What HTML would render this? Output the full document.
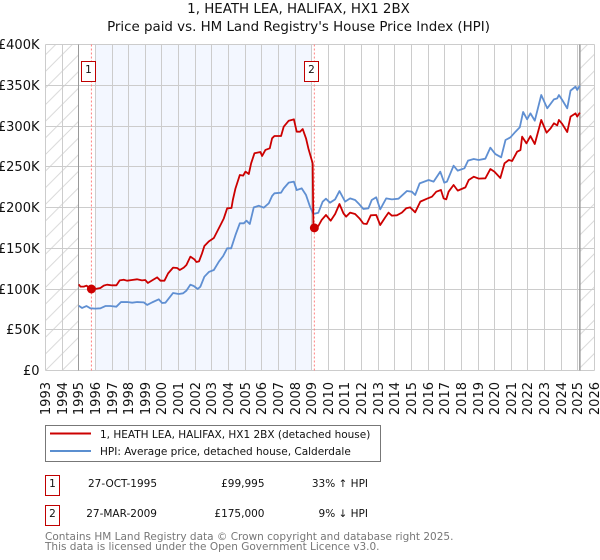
<!DOCTYPE html>
<html><head><meta charset="utf-8"><title>1, HEATH LEA, HALIFAX, HX1 2BX</title>
<style>
html,body{margin:0;padding:0;background:#fff}
svg{display:block;font-family:"DejaVu Sans","Liberation Sans",sans-serif}
</style></head>
<body>
<svg id="chart" xmlns="http://www.w3.org/2000/svg" width="600" height="560" viewBox="0 0 600 560">
<defs>
<pattern id="hatch" patternUnits="userSpaceOnUse" width="16.62" height="16.62" x="45.5" y="370.5">
<path d="M0 16.62L16.62 0M-2 2L2 -2M14.6 18.6L18.6 14.6" stroke="#d4d4d4" stroke-width="0.9" fill="none"/>
</pattern>
</defs>
<text x="298.5" y="13" text-anchor="middle" font-size="13.4" fill="#111">1, HEATH LEA, HALIFAX, HX1 2BX</text>
<text x="298.5" y="31" text-anchor="middle" font-size="13.4" fill="#111">Price paid vs. HM Land Registry's House Price Index (HPI)</text>
<g id="plot"></g>
<g>
<rect x="45.5" y="425.5" width="335" height="36" fill="#fff" stroke="#777" stroke-width="1"/>
<line x1="50" x2="91" y1="433.5" y2="433.5" stroke="#cc0000" stroke-width="2"/>
<text x="100" y="438" font-size="10.5" fill="#111">1, HEATH LEA, HALIFAX, HX1 2BX (detached house)</text>
<line x1="50" x2="91" y1="451" y2="451" stroke="#5b8fd0" stroke-width="2"/>
<text x="100" y="455" font-size="10.5" fill="#111">HPI: Average price, detached house, Calderdale</text>
</g>
<g font-size="10.5" fill="#111">
<rect x="45.5" y="475.5" width="14" height="20" fill="#fff" stroke="#c00000"/>
<text x="52.5" y="487" text-anchor="middle">1</text>
<text x="157" y="487" text-anchor="end">27-OCT-1995</text>
<text x="264.5" y="487" text-anchor="end">£99,995</text>
<text x="368" y="487" text-anchor="end">33% ↑ HPI</text>
<rect x="45.5" y="505.5" width="14" height="20" fill="#fff" stroke="#c00000"/>
<text x="52.5" y="517" text-anchor="middle">2</text>
<text x="157" y="517" text-anchor="end">27-MAR-2009</text>
<text x="264.5" y="517" text-anchor="end">£175,000</text>
<text x="368" y="517" text-anchor="end">9% ↓ HPI</text>
</g>
<text x="45" y="540" font-size="10.5" fill="#777">Contains HM Land Registry data © Crown copyright and database right 2025.</text>
<text x="45" y="550" font-size="10.5" fill="#777">This data is licensed under the Open Government Licence v3.0.</text>
</svg>
<script>
const yTickValues = [0, 50, 100, 150, 200, 250, 300, 350, 400];
const yTickLabels = ["£0", "£50K", "£100K", "£150K", "£200K", "£250K", "£300K", "£350K", "£400K"];
const xTickYears = [1993,1994,1995,1996,1997,1998,1999,2000,2001,2002,2003,2004,2005,2006,2007,2008,2009,2010,2011,2012,2013,2014,2015,2016,2017,2018,2019,2020,2021,2022,2023,2024,2025,2026];
const priceDates = [1995.00,1995.10,1995.30,1995.46,1995.60,1995.78,1996.10,1996.30,1996.50,1996.70,1997.00,1997.26,1997.46,1997.70,1997.90,1998.20,1998.50,1998.80,1999.00,1999.15,1999.41,1999.71,1999.91,2000.15,2000.37,2000.67,2000.91,2001.07,2001.31,2001.47,2001.71,2001.95,2002.07,2002.23,2002.41,2002.55,2002.82,2003.12,2003.52,2003.72,2003.92,2004.18,2004.26,2004.42,2004.68,2004.88,2005.02,2005.22,2005.36,2005.56,2005.92,2006.02,2006.22,2006.48,2006.62,2006.76,2007.16,2007.32,2007.62,2007.93,2008.10,2008.30,2008.46,2008.66,2008.80,2009.06,2009.10,2009.16,2009.40,2009.60,2009.86,2010.14,2010.41,2010.67,2010.91,2011.07,2011.31,2011.61,2011.87,2012.11,2012.31,2012.55,2012.88,2013.12,2013.42,2013.62,2013.82,2014.12,2014.42,2014.68,2014.92,2015.22,2015.53,2015.93,2016.23,2016.49,2016.77,2016.93,2017.09,2017.23,2017.53,2017.78,2018.24,2018.44,2018.74,2019.04,2019.44,2019.74,2019.98,2020.34,2020.59,2020.85,2021.05,2021.35,2021.55,2021.65,2021.91,2022.15,2022.41,2022.80,2023.12,2023.36,2023.56,2023.76,2023.86,2024.06,2024.36,2024.56,2024.86,2024.96,2025.12];
const priceValues = [105.7,102.9,102.9,104.1,102.0,100.0,100.4,101.2,104.1,105.3,104.5,104.5,110.6,111.4,110.2,111.0,111.9,110.6,111.0,107.4,110.6,114.3,110.2,110.2,119.2,126.2,125.8,123.3,126.2,129.4,139.7,136.4,133.1,133.9,143.8,152.8,158.5,162.6,178.5,186.7,199.0,199.4,209.2,223.5,239.9,239.1,244.0,241.1,254.2,266.5,268.1,263.2,270.6,272.6,284.9,287.7,287.7,299.2,306.5,308.2,293.0,293.0,296.3,284.8,272.6,254.2,176.4,175.0,177.3,184.7,190.8,183.8,192.0,204.3,192.8,188.8,193.7,192.0,186.7,180.2,179.8,190.4,190.8,178.5,187.9,193.7,190.0,190.4,193.7,199.0,200.2,194.1,207.2,210.8,213.3,219.4,221.5,211.2,210.0,219.4,227.6,220.7,224.7,233.7,237.8,235.4,235.8,247.2,244.0,236.2,254.2,258.3,257.1,268.5,270.5,286.9,278.7,287.7,277.9,307.4,291.8,297.1,303.3,300.8,307.4,302.5,292.6,311.5,315.5,311.5,316.4];
const hpiDates = [1995.00,1995.20,1995.46,1995.70,1996.00,1996.30,1996.60,1996.90,1997.26,1997.54,1997.91,1998.21,1998.51,1998.91,1999.11,1999.41,1999.81,2000.01,2000.21,2000.67,2001.01,2001.27,2001.47,2001.71,2001.91,2002.15,2002.31,2002.55,2002.82,2003.12,2003.42,2003.68,2003.92,2004.16,2004.42,2004.68,2004.92,2005.08,2005.28,2005.52,2005.82,2006.12,2006.42,2006.62,2006.76,2007.16,2007.32,2007.62,2007.93,2008.10,2008.40,2008.66,2008.90,2009.10,2009.40,2009.66,2009.86,2010.10,2010.41,2010.67,2011.01,2011.31,2011.61,2011.81,2012.11,2012.41,2012.61,2012.88,2013.12,2013.48,2013.82,2014.22,2014.72,2015.02,2015.22,2015.49,2016.03,2016.33,2016.73,2016.97,2017.13,2017.53,2017.78,2018.18,2018.40,2018.74,2019.04,2019.44,2019.74,2020.04,2020.39,2020.65,2020.95,2021.25,2021.51,2021.71,2021.95,2022.15,2022.41,2022.80,2023.16,2023.56,2023.76,2023.86,2024.06,2024.36,2024.56,2024.86,2024.96,2025.12];
const hpiValues = [79.5,76.7,79.1,76.3,75.9,76.3,79.1,79.1,78.3,84.0,84.0,83.2,84.0,83.6,80.4,83.6,87.3,82.8,83.2,95.1,93.9,94.7,98.0,105.3,103.7,100.0,102.9,115.1,120.9,123.3,133.5,140.5,149.9,149.9,166.3,180.6,180.6,183.8,179.8,200.2,202.2,199.8,205.1,214.1,217.4,218.2,223.5,230.5,231.7,221.4,223.5,215.3,201.0,192.0,193.6,207.1,210.8,205.9,210.0,220.2,207.2,211.2,209.2,205.1,198.2,199.0,209.2,212.5,197.7,211.2,210.0,210.8,220.2,219.4,215.3,229.6,233.7,231.7,244.0,230.5,231.7,251.3,245.2,248.1,257.5,259.5,258.3,259.9,273.4,265.6,261.6,282.8,286.1,293.0,298.4,317.2,308.2,315.5,306.5,338.0,321.7,332.7,333.9,338.0,331.9,321.7,343.4,348.3,344.2,349.5];
const saleDates = [1995.76, 2009.16];
const saleValues = [99.995, 175];
const saleLabels = ["1", "2"];

const NS = "http://www.w3.org/2000/svg";
const plot = document.getElementById("plot");
function xAxis(year) { return 45.5 + (year - 1993) * (594.5 - 45.5) / 33; }
function yAxis(k) { return 370.5 - k * (370.5 - 44.5) / 400; }
function add(tag, attrs, parent) {
  const el = document.createElementNS(NS, tag);
  for (const k in attrs) el.setAttribute(k, attrs[k]);
  (parent || plot).appendChild(el);
  return el;
}
function snap(v) { return Math.floor(v) + 0.5; }

const band = add("rect", {x: xAxis(1996), y: yAxis(400), width: xAxis(2009) - xAxis(1996), height: yAxis(0) - yAxis(400), fill: "#f3f7ff"});



const hatchLeft = add("rect", {x: xAxis(1993), y: yAxis(400), width: xAxis(1995) - xAxis(1993), height: yAxis(0) - yAxis(400), fill: "url(#hatch)"});


const hatchRight = add("rect", {x: xAxis(2025.1), y: yAxis(400), width: xAxis(2026) - xAxis(2025.1), height: yAxis(0) - yAxis(400), fill: "url(#hatch)"});



yTickValues.forEach(function (v, i) {
  const y = snap(yAxis(v));
  const g = add("line", {x1: xAxis(1993), x2: xAxis(2026), y1: y, y2: y, stroke: "#cccccc", "stroke-width": 1});
  
  
  const t = add("text", {x: 39.5, y: y + 4.5, "text-anchor": "end", "font-size": 13, fill: "#111"});
  
  
  t.textContent = yTickLabels[i];
});
xTickYears.forEach(function (yr) {
  const x = snap(xAxis(yr));
  const g = add("line", {x1: x, x2: x, y1: yAxis(400), y2: yAxis(0), stroke: "#cccccc", "stroke-width": 1});
  
  
  const t = add("text", {transform: "translate(" + (x + 4.5) + ",382) rotate(-90)", "text-anchor": "end", "font-size": 13, fill: "#111"});
  
  
  t.textContent = yr;
});

const startLine = add("line", {x1: snap(xAxis(1995)), x2: snap(xAxis(1995)), y1: yAxis(400), y2: yAxis(0), stroke: "#999999", "stroke-width": 1});


const endLine = add("line", {x1: xAxis(2025.12), x2: xAxis(2025.12), y1: yAxis(400), y2: yAxis(0), stroke: "#999999", "stroke-width": 1.5});



saleDates.forEach(function (d) {
  const l = add("line", {x1: xAxis(d), x2: xAxis(d), y1: yAxis(400), y2: yAxis(0), stroke: "#ff8080", "stroke-width": 1, "stroke-dasharray": "2 2"});
  
  
});

function linePath(dates, values) {
  return dates.map(function (d, i) { return (i ? "L" : "M") + xAxis(d).toFixed(2) + " " + yAxis(values[i]).toFixed(2); }).join("");
}
const hpiLine = add("path", {d: linePath(hpiDates, hpiValues), fill: "none", stroke: "#5f8fd2", "stroke-width": 1.8, "stroke-linejoin": "round"});


const priceLine = add("path", {d: linePath(priceDates, priceValues), fill: "none", stroke: "#cc0000", "stroke-width": 1.8, "stroke-linejoin": "round"});



saleDates.forEach(function (d, i) {
  const c = add("circle", {cx: xAxis(d), cy: yAxis(saleValues[i]), r: 4.5, fill: "#cc0000"});
  
  
  const cx = Math.floor(xAxis(d));
  const b = add("rect", {x: cx - 9.5, y: 61.5, width: 14, height: 20, fill: "#ffffff", stroke: "#c00000"});
  
  
  const t = add("text", {x: cx - 2.5, y: 73, "text-anchor": "middle", "font-size": 10.5, fill: "#111"});
  
  
  t.textContent = saleLabels[i];
});
</script>
</body></html>
